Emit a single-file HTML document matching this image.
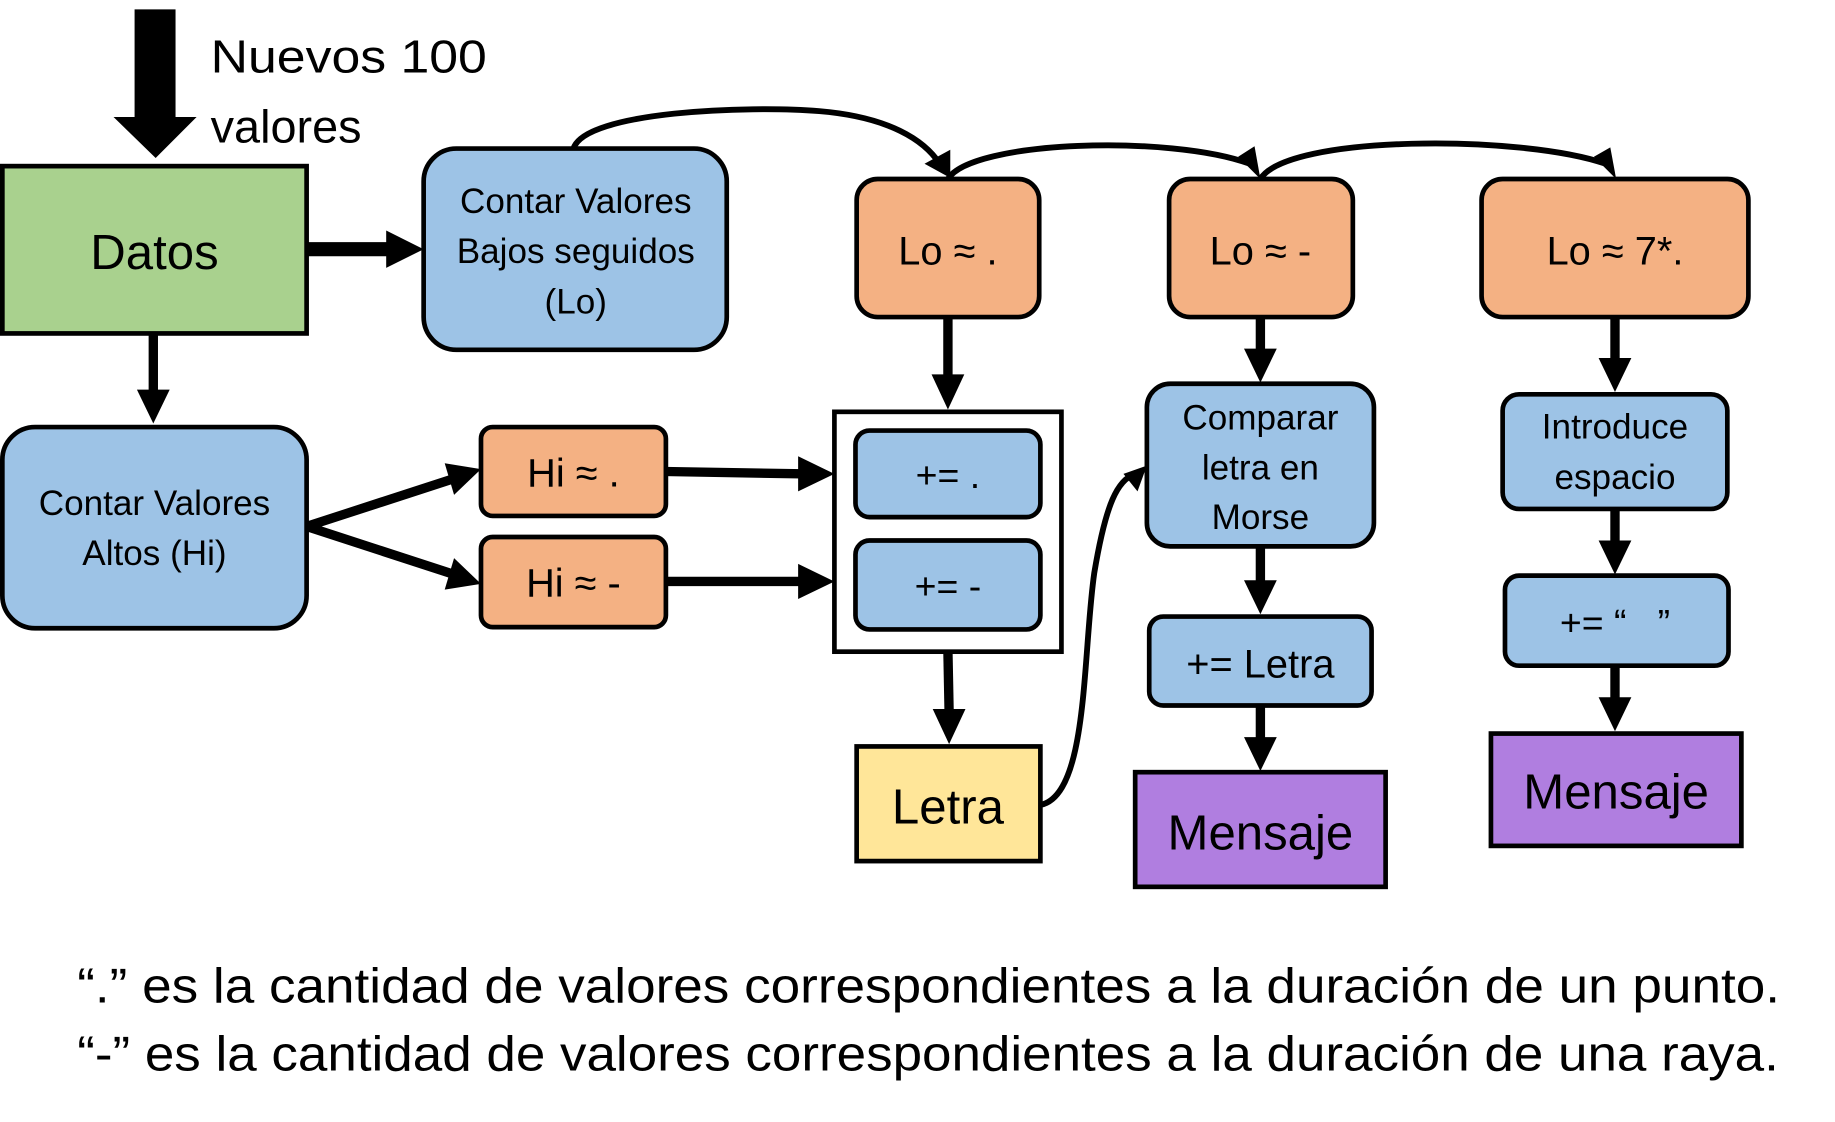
<!DOCTYPE html>
<html><head><meta charset="utf-8"><style>
html,body{margin:0;padding:0;background:#fff}
svg{display:block}
text{font-family:"Liberation Sans",sans-serif;fill:#000}
</style></head><body>
<svg width="1835" height="1122" viewBox="0 0 1568 959" preserveAspectRatio="none" xmlns="http://www.w3.org/2000/svg">
<g stroke="#000" stroke-width="4">
<polygon points="115,8 150,8 150,100 168,100 133,135 97,100 115,100" fill="#000" stroke="none"/>
<rect x="2" y="142" width="260" height="143" fill="#a9d18e"/>
<rect x="362" y="127" width="259" height="172" rx="28" fill="#9dc3e6"/>
<rect x="2" y="365" width="260" height="172" rx="28" fill="#9dc3e6"/>
<rect x="411" y="365" width="158" height="76" rx="10" fill="#f4b183"/>
<rect x="411" y="459" width="158" height="77" rx="10" fill="#f4b183"/>
<rect x="713" y="352" width="194" height="205" fill="#fff"/>
<rect x="731" y="368" width="158" height="74" rx="12" fill="#9dc3e6"/>
<rect x="731" y="462" width="158" height="76" rx="12" fill="#9dc3e6"/>
<rect x="732" y="153" width="156" height="118" rx="18" fill="#f4b183"/>
<rect x="732" y="638" width="157" height="98" fill="#ffe699"/>
<rect x="999" y="153" width="157" height="118" rx="18" fill="#f4b183"/>
<rect x="980" y="328" width="194" height="139" rx="20" fill="#9dc3e6"/>
<rect x="982" y="527" width="190" height="76" rx="12" fill="#9dc3e6"/>
<rect x="970" y="660" width="214" height="98" fill="#b07ee0"/>
<rect x="1266" y="153" width="228" height="118" rx="18" fill="#f4b183"/>
<rect x="1284" y="337" width="192" height="98" rx="14" fill="#9dc3e6"/>
<rect x="1286" y="492" width="191" height="77" rx="12" fill="#9dc3e6"/>
<rect x="1274" y="627" width="214" height="96" fill="#b07ee0"/>
</g>
<g stroke="#000" fill="none">
<line x1="262" y1="213" x2="332" y2="213" stroke-width="12"/>
<line x1="131" y1="285" x2="131" y2="335" stroke-width="8"/>
<line x1="262" y1="450" x2="385" y2="410" stroke-width="8"/>
<line x1="262" y1="450" x2="385" y2="490" stroke-width="8"/>
<line x1="569" y1="403" x2="685" y2="405" stroke-width="8"/>
<line x1="569" y1="497" x2="685" y2="497" stroke-width="8"/>
<line x1="810" y1="271" x2="810" y2="322" stroke-width="8"/>
<line x1="810" y1="557" x2="811" y2="608" stroke-width="8"/>
<line x1="1077" y1="271" x2="1077" y2="300" stroke-width="8"/>
<line x1="1077" y1="467" x2="1077" y2="498" stroke-width="8"/>
<line x1="1077" y1="603" x2="1077" y2="632" stroke-width="8"/>
<line x1="1380" y1="271" x2="1380" y2="308" stroke-width="8"/>
<line x1="1380" y1="435" x2="1380" y2="464" stroke-width="8"/>
<line x1="1380" y1="569" x2="1380" y2="598" stroke-width="8"/>
<path d="M490,127 C500,95 640,90 700,95 C760,100 790,120 803,140" stroke-width="5"/>
<path d="M810,153 C830,120 1000,115 1068,140" stroke-width="5"/>
<path d="M1077,153 C1100,115 1300,115 1372,140" stroke-width="5"/>
<path d="M889,688 C930,680 925,560 935,490 C945,430 955,410 970,405" stroke-width="5"/>
</g>
<g fill="#000">
<polygon points="330,197 362,213 330,229"/>
<polygon points="117,333 145,333 131,362"/>
<polygon points="380,396 411,401 388,423"/>
<polygon points="388,477 411,499 380,504"/>
<polygon points="682,390 713,405 682,420"/>
<polygon points="682,482 713,497 682,512"/>
<polygon points="796,320 824,320 810,350"/>
<polygon points="797,606 825,606 811,636"/>
<polygon points="1063,298 1091,298 1077,327"/>
<polygon points="1063,496 1091,496 1077,525"/>
<polygon points="1063,630 1091,630 1077,659"/>
<polygon points="1366,306 1394,306 1380,335"/>
<polygon points="1366,462 1394,462 1380,491"/>
<polygon points="1366,596 1394,596 1380,625"/>
<polygon points="790,140 812,152 812,128"/>
<polygon points="1058,134 1077,153 1072,125"/>
<polygon points="1362,134 1381,153 1376,126"/>
<polygon points="960,405 980,398 972,420"/>
</g>
<g text-anchor="middle">
<text x="132" y="230" font-size="42">Datos</text>
<text x="492" y="182" font-size="30">Contar Valores</text>
<text x="492" y="225" font-size="30">Bajos seguidos</text>
<text x="492" y="268" font-size="30">(Lo)</text>
<text x="132" y="440" font-size="30">Contar Valores</text>
<text x="132" y="483" font-size="30">Altos (Hi)</text>
<text x="490" y="416" font-size="34">Hi ≈ .</text>
<text x="490" y="510" font-size="34">Hi ≈ -</text>
<text x="810" y="417" font-size="32">+= .</text>
<text x="810" y="512" font-size="32">+= -</text>
<text x="810" y="226" font-size="34">Lo ≈ .</text>
<text x="810" y="704" font-size="42">Letra</text>
<text x="1077" y="226" font-size="34">Lo ≈ -</text>
<text x="1077" y="367" font-size="30">Comparar</text>
<text x="1077" y="410" font-size="30">letra en</text>
<text x="1077" y="452" font-size="30">Morse</text>
<text x="1077" y="579" font-size="34">+= Letra</text>
<text x="1077" y="726" font-size="42">Mensaje</text>
<text x="1380" y="226" font-size="34">Lo ≈ 7*.</text>
<text x="1380" y="375" font-size="30">Introduce</text>
<text x="1380" y="418" font-size="30">espacio</text>
<text x="1380" y="543" font-size="32">+= “&#160;&#160;&#160;”</text>
<text x="1381" y="691" font-size="42">Mensaje</text>
</g>
<text x="180" y="62" font-size="40" textLength="236" lengthAdjust="spacingAndGlyphs">Nuevos 100</text>
<text x="180" y="122" font-size="40">valores</text>
<text x="66" y="857" font-size="42" textLength="1455" lengthAdjust="spacingAndGlyphs">“.” es la cantidad de valores correspondientes a la duración de un punto.</text>
<text x="66" y="915" font-size="42" textLength="1454" lengthAdjust="spacingAndGlyphs">“-” es la cantidad de valores correspondientes a la duración de una raya.</text>
</svg>
</body></html>
